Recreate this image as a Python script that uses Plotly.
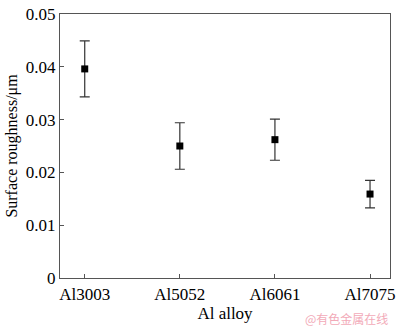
import plotly.graph_objects as go

alloys = ["Al3003", "Al5052", "Al6061", "Al7075"]
roughness = [0.0396, 0.0250, 0.0262, 0.0159]
err = [0.0053, 0.0044, 0.0039, 0.0026]
ytick_vals = [0, 0.01, 0.02, 0.03, 0.04, 0.05]
ytick_text = ["0", "0.01", "0.02", "0.03", "0.04", "0.05"]

font = "Liberation Serif, Times New Roman, serif"

fig = go.Figure()
fig.add_trace(go.Scatter(
    x=alloys, y=roughness, mode="markers",
    marker=dict(symbol="square", size=7, color="black"),
    error_y=dict(type="data", array=err, visible=True, color="#333333",
                 thickness=1.2, width=5),
    showlegend=False,
))

axis_common = dict(showline=True, linecolor="#555555", linewidth=1.2, mirror=True,
                   ticks="inside", ticklen=4, tickcolor="#555555", showgrid=False,
                   zeroline=False, ticklabeloverflow="allow",
                   tickfont=dict(family=font, size=17, color="black"))

fig.update_layout(
    width=400, height=327,
    margin=dict(l=60, r=5, t=5, b=49),
    paper_bgcolor="white", plot_bgcolor="white",
    font=dict(family=font, color="black"),
    xaxis=dict(**axis_common, range=[-0.26, 3.21],
               title=dict(text="Al alloy", font=dict(family=font, size=17), standoff=4)),
    yaxis=dict(**axis_common, range=[0, 0.05], tickvals=ytick_vals, ticktext=ytick_text,
               title=dict(text="Surface roughness/μm", font=dict(family=font, size=16), standoff=4)),
    annotations=[dict(text="@有色金属在线", x=1, y=0, xref="paper", yref="paper",
                      xanchor="right", yanchor="middle", yshift=-40, xshift=0, showarrow=False,
                      font=dict(family="Noto Sans CJK SC", size=12, color="#f2aab8"))],
)

fig.write_html("out.html", config={"displayModeBar": False},
               post_script="document.body.style.margin='0';document.body.style.overflow='hidden';")
